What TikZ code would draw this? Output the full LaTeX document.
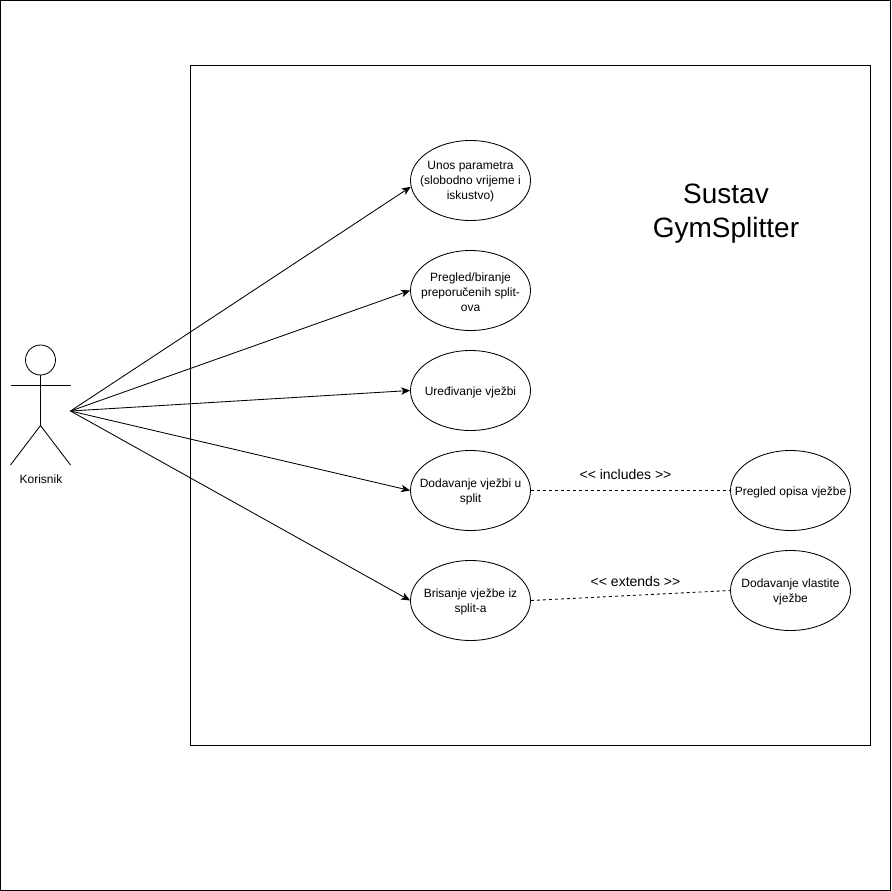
\documentclass[tikz,border=0pt]{standalone}
\usepackage{fontspec}
\setmainfont{Liberation Sans}
\usetikzlibrary{arrows.meta,shapes.geometric}
\tikzset{
 usecase/.style={draw,ellipse,minimum width=120pt,minimum height=80pt,inner sep=0pt},
 uctext/.style={align=center,inner sep=0pt,yshift=-1.5pt,font=\fontsize{12}{15}\selectfont},
 assoc/.style={-{Stealth[length=9pt,width=7.5pt,inset=2.5pt]},line width=0.85pt},
 relation/.style={dashed,dash pattern=on 3pt off 3pt,line width=0.85pt},
 lbl/.style={inner sep=0pt,font=\fontsize{14}{17}\selectfont},
 limb/.style={line width=0.85pt},
}
\begin{document}
\begin{tikzpicture}[x=1pt,y=-1pt,line width=0.85pt]
\useasboundingbox (0,0) rectangle (891,891);
\draw (0.5,0.5) rectangle (890.5,890.5);
\draw (190.5,65.5) rectangle (870.5,745.5);
\node[usecase,label={[uctext]center:Unos parametra\\(slobodno vrijeme i\\iskustvo)}] (u1) at (470.5,180.5) {};
\node[usecase,label={[uctext]center:Pregled/biranje\\preporučenih split-\\ova}] (u2) at (470.5,290.5) {};
\node[usecase,label={[uctext]center:Uređivanje vježbi}] (u3) at (470.5,390.5) {};
\node[usecase,label={[uctext]center:Dodavanje vježbi u\\split}] (u4) at (470.5,490.5) {};
\node[usecase,label={[uctext]center:Brisanje vježbe iz\\split-a}] (u5) at (470.5,600.5) {};
\node[usecase,label={[uctext]center:Pregled opisa vježbe}] (r1) at (790.5,490.5) {};
\node[usecase,label={[uctext]center:Dodavanje vlastite\\vježbe}] (r2) at (790.5,590.5) {};
\node[inner sep=0pt,align=center,font=\fontsize{28}{34}\selectfont] (title) at (726,213.5) {Sustav\\GymSplitter};
\node[lbl] (l1) at (625.5,474) {<{}< includes >{}>};
\node[lbl] (l2) at (635.5,581) {<{}< extends >{}>};
\node[inner sep=0pt,font=\fontsize{12}{15}\selectfont] (actorname) at (41,479.5) {Korisnik};
% actor
\node[draw,circle,minimum size=30pt,inner sep=0pt] (head) at (40.5,360) {};
\coordinate (hip) at (40.5,425.5);
\coordinate (armL) at (10.5,385);
\coordinate (armR) at (70.5,385);
\coordinate (footL) at (10.5,465);
\coordinate (footR) at (70.5,465);
\coordinate (actor) at (70.5,411);
\draw[limb] (head.south) -- (hip);
\draw[limb] (armL) -- (armR);
\draw[limb] (footL) -- (hip) -- (footR);
% connectors
\draw[assoc] (actor) -- (u1.186);
\draw[assoc] (actor) -- (u2.west);
\draw[assoc] (actor) -- (u3.west);
\draw[assoc] (actor) -- (u4.west);
\draw[assoc] (actor) -- (u5.west);
\draw[relation] (u4.east) -- (r1.west);
\draw[relation] (u5.east) -- (r2.west);
\end{tikzpicture}
\end{document}
